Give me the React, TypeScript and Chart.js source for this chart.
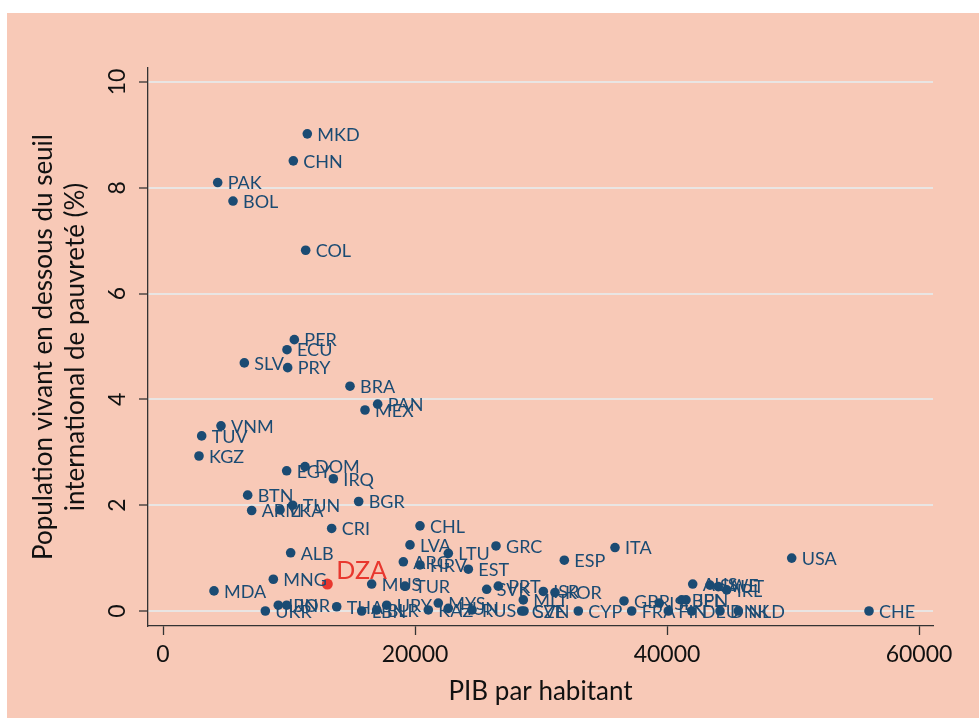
import React, { useEffect, useRef } from "react";
import { Chart, registerables } from "chart.js";

Chart.register(...registerables);

const countries = [
  "MKD", "CHN", "PAK", "BOL", "COL", "PER", "ECU", "SLV", "PRY", "BRA",
  "PAN", "MEX", "VNM", "TUV", "KGZ", "EGY", "DOM", "IRQ", "BTN", "TUN",
  "BGR", "ARM", "LKA", "CRI", "ALB", "CHL", "LVA", "ARG", "HRV", "LTU",
  "EST", "GRC", "ESP", "ITA", "USA", "MNG", "DZA", "MDA", "MUS", "TUR",
  "SVK", "PRT", "MLT", "ISR", "KOR", "AUS", "SWE", "AUT", "IRL", "GBR",
  "ISL", "BEL", "JPN", "UKR", "IRN", "JOR", "THA", "LBN", "BLR", "URY",
  "KAZ", "MYS", "HUN", "RUS", "CZE", "SVN", "CYP", "FRA", "FIN", "DEU",
  "DNK", "NLD", "CHE",
];

const gdpPerCapita = [
  11452, 10343, 4341, 5556, 11323, 10423, 9841, 6455, 9894, 14841,
  17037, 16032, 4603, 3069, 2857, 9815, 11270, 13519, 6720, 10291,
  15529, 7037, 9286, 13386, 10132, 20397, 19603, 19074, 20397, 22646,
  24233, 26429, 31850, 35873, 49897, 8757, 13042, 4048, 16561, 19206,
  25690, 26611, 28595, 30183, 31111, 42040, 43413, 44071, 44738, 36587,
  39389, 41167, 41508, 8122, 9151, 9817, 13786, 15770, 16960, 17754,
  21056, 21849, 22643, 24524, 28468, 28651, 32960, 37198, 40103, 41960,
  44206, 45659, 56032,
];

const povertyRate = [
  9.02, 8.51, 8.1, 7.75, 6.82, 5.13, 4.94, 4.69, 4.6, 4.25,
  3.91, 3.8, 3.5, 3.31, 2.93, 2.65, 2.73, 2.5, 2.19, 2.0,
  2.07, 1.9, 1.91, 1.56, 1.1, 1.61, 1.25, 0.93, 0.87, 1.09,
  0.79, 1.23, 0.96, 1.2, 1.0, 0.6, 0.51, 0.38, 0.51, 0.47,
  0.41, 0.47, 0.21, 0.37, 0.35, 0.51, 0.49, 0.46, 0.4, 0.19,
  0.15, 0.21, 0.21, 0.0, 0.11, 0.11, 0.08, 0.0, 0.02, 0.11,
  0.02, 0.15, 0.05, 0.02, 0.0, 0.0, 0.0, 0.0, 0.0, 0.0,
  0.0, 0.0, 0.0,
];

const highlightCountry = "DZA";
const xTickValues = [0, 20000, 40000, 60000];
const yTickValues = [0, 2, 4, 6, 8, 10];
const xTitle = "PIB par habitant";
const yTitle = ["Population vivant en dessous du seuil", "international de pauvreté (%)"];

const BLUE = "#1b4b73";
const RED = "#e8372e";
const SALMON = "#f8c9b7";
const FONT = "Lato, 'Open Sans', sans-serif";

const labelPlugin = {
  id: "countryLabels",
  afterDatasetsDraw(chart: any) {
    const ctx = chart.ctx;
    ctx.save();
    ctx.textBaseline = "middle";
    ctx.textAlign = "left";
    chart.data.datasets.forEach((ds: any, di: number) => {
      const meta = chart.getDatasetMeta(di);
      meta.data.forEach((el: any, i: number) => {
        const name = ds.names[i];
        if (ds.isHighlight) {
          ctx.font = `25px ${FONT}`;
          ctx.fillStyle = RED;
          ctx.fillText(name, el.x + 9, el.y - 13);
        } else {
          ctx.font = `18px ${FONT}`;
          ctx.fillStyle = BLUE;
          ctx.fillText(name, el.x + 10, el.y + 1);
        }
      });
    });
    ctx.restore();
  },
};

const titlePlugin = {
  id: "axisTitles",
  afterDraw(chart: any) {
    const ctx = chart.ctx;
    const area = chart.chartArea;
    ctx.save();
    ctx.fillStyle = "#111";
    ctx.font = `26px ${FONT}`;
    ctx.textAlign = "center";
    ctx.textBaseline = "middle";
    ctx.fillText(xTitle, (area.left + area.right) / 2, 692);
    const cy = (area.top + area.bottom) / 2;
    const xs = [44, 76];
    yTitle.forEach((line, i) => {
      ctx.save();
      ctx.translate(xs[i], cy);
      ctx.rotate(-Math.PI / 2);
      ctx.fillText(line, 0, 0);
      ctx.restore();
    });
    ctx.restore();
  },
};

export default function App() {
  const canvasRef = useRef<HTMLCanvasElement | null>(null);

  useEffect(() => {
    const canvas = canvasRef.current;
    if (!canvas) return;
    const mainNames: string[] = [];
    const mainPts: { x: number; y: number }[] = [];
    const hiNames: string[] = [];
    const hiPts: { x: number; y: number }[] = [];
    countries.forEach((c, i) => {
      const p = { x: gdpPerCapita[i], y: povertyRate[i] };
      if (c === highlightCountry) {
        hiNames.push(c);
        hiPts.push(p);
      } else {
        mainNames.push(c);
        mainPts.push(p);
      }
    });

    const chart = new Chart(canvas, {
      type: "scatter",
      data: {
        datasets: [
          {
            data: mainPts,
            names: mainNames,
            backgroundColor: BLUE,
            borderWidth: 0,
            pointRadius: 4.8,
          } as any,
          {
            data: hiPts,
            names: hiNames,
            isHighlight: true,
            backgroundColor: RED,
            borderWidth: 0,
            pointRadius: 5.5,
          } as any,
        ],
      },
      options: {
        animation: false,
        responsive: false,
        devicePixelRatio: 1,
        layout: { padding: { left: 0, top: 68, right: 46, bottom: 0 } },
        plugins: {
          legend: { display: false },
          tooltip: { enabled: false },
          title: { display: false },
        },
        scales: {
          x: {
            type: "linear",
            min: -1190.5,
            max: 61111,
            afterBuildTicks: (scale: any) => {
              scale.ticks = xTickValues.map((v) => ({ value: v }));
            },
            afterFit: (scale: any) => {
              scale.height = 92;
            },
            grid: {
              drawOnChartArea: false,
              drawTicks: true,
              tickLength: 9,
              tickColor: "#333",
              tickWidth: 1.3,
            },
            border: { display: true, color: "#333", width: 1.3 },
            ticks: {
              color: "#111",
              font: { family: FONT, size: 23 },
              padding: 6,
              maxRotation: 0,
              minRotation: 0,
              autoSkip: false,
              callback: (v: any) => String(v),
            },
          },
          y: {
            type: "linear",
            min: -0.2836,
            max: 10.265,
            afterBuildTicks: (scale: any) => {
              scale.ticks = yTickValues.map((v) => ({ value: v }));
            },
            afterFit: (scale: any) => {
              scale.width = 148;
            },
            grid: {
              drawOnChartArea: true,
              color: "#e9e5e3",
              lineWidth: 2,
              drawTicks: true,
              tickLength: 9,
              tickColor: "#333",
              tickWidth: 1.3,
            },
            border: { display: true, color: "#333", width: 1.3 },
            ticks: {
              color: "#111",
              font: { family: FONT, size: 23 },
              padding: 8,
              minRotation: 90,
              maxRotation: 90,
              crossAlign: "center",
              autoSkip: false,
              callback: (v: any) => String(v),
            },
          },
        },
      } as any,
      plugins: [labelPlugin, titlePlugin],
    });

    return () => chart.destroy();
  }, []);

  return (
    <div style={{ position: "fixed", left: 0, top: 0, width: 979, height: 718, background: "#fff" }}>
      <div style={{ position: "absolute", left: 7, top: 13, right: 0, bottom: 0, background: SALMON }} />
      <canvas
        ref={canvasRef}
        width={979}
        height={718}
        style={{ position: "absolute", left: 0, top: 0, width: 979, height: 718 }}
      />
    </div>
  );
}
